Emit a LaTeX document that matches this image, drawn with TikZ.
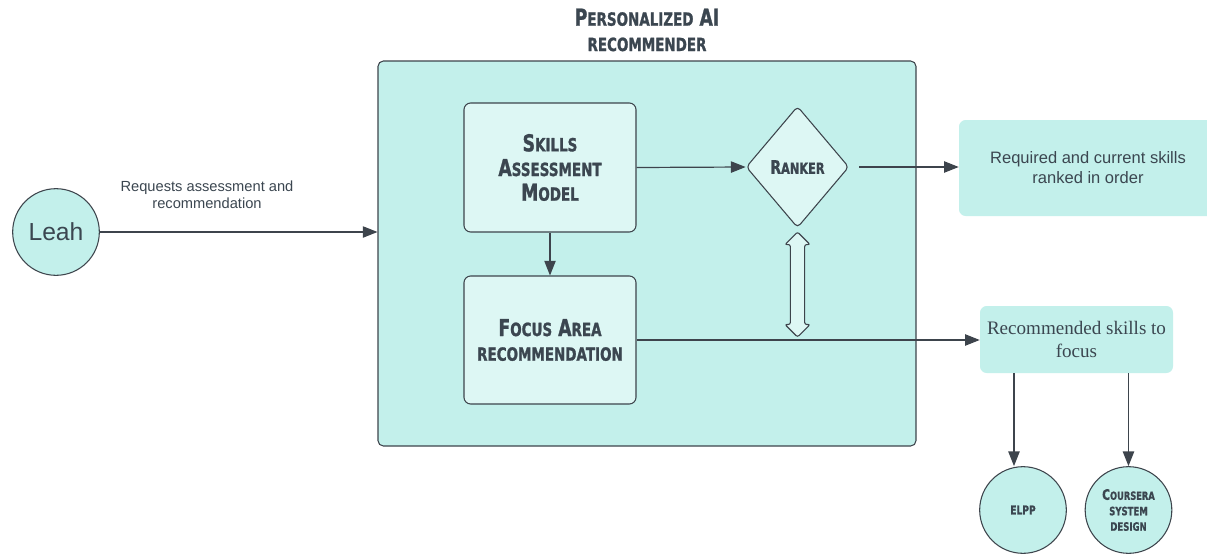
\documentclass[tikz,border=0pt]{standalone}
\usepackage{fontspec}
\setmainfont{Liberation Sans}
\newfontfamily\serifbody{Liberation Serif}
\newfontfamily\headfont{DejaVu Sans}[FakeStretch=0.74, BoldFeatures={FakeBold=1.2}]
\usepackage{tikz}
\usetikzlibrary{shapes.geometric,shapes.arrows,arrows.meta}

\definecolor{tealbg}{HTML}{C3F0EB}
\definecolor{tealin}{HTML}{DDF7F4}
\definecolor{edge}{HTML}{3D444C}
\definecolor{ink}{HTML}{3B4650}

% small caps by hand: big first letter, scaled rest
\newcommand{\sk}[2]{#1\scalebox{0.78}{#2}}

\tikzset{
	box/.style={draw=edge, line width=0.8pt, rounded corners=5pt, fill=tealin, text=ink, align=center, inner sep=0pt},
	note/.style={fill=tealbg, rounded corners=5pt, text=ink, align=center, inner sep=0pt},
	round/.style={circle, draw=edge, line width=0.8pt, fill=tealbg, text=ink, align=center, inner sep=0pt, minimum size=65pt},
	arr/.style={draw=edge, line width=0.9pt, -{Triangle[length=11pt,width=8.5pt]}},
	head/.style={font=\headfont\bfseries\fontsize{17.5}{18.5}\selectfont}
}

\begin{document}
\begin{tikzpicture}[x=0.75pt,y=-0.75pt]
		\useasboundingbox (0,0) rectangle (1207,554);
		\node[text=ink, align=center, font=\headfont\bfseries\fontsize{17.5}{19}\selectfont] (title) at (647,30) {\sk{P}{ERSONALIZED} AI\\\scalebox{0.78}{RECOMMENDER}};
		\node[draw=edge, line width=0.8pt, rounded corners=4pt, fill=tealbg, minimum width=403.5pt, minimum height=288.75pt] (sys) at (647,253.5) {};
		\node[box, head, minimum width=129pt, minimum height=96.75pt] (skills) at (550,167.5) {\sk{S}{KILLS}\\\sk{A}{SSESSMENT}\\\sk{M}{ODEL}};
		\node[box, head, minimum width=129pt, minimum height=96pt] (focus) at (550,340) {\sk{F}{OCUS} \sk{A}{REA}\\\scalebox{0.78}{RECOMMENDATION}};
		\node[diamond, box, rounded corners=3pt, minimum width=77pt, minimum height=91pt, font=\headfont\bfseries\fontsize{14}{15}\selectfont] (ranker) at (797.5,167) {R\scalebox{0.82}{ANKER}};
		\node[double arrow, draw=edge, line width=0.8pt, fill=tealin, rotate=90, minimum height=78.75pt, inner sep=5pt, double arrow head extend=4pt, rounded corners=1.5pt] (link) at (797.5,284.5) {};
		\node[note, minimum width=193.5pt, minimum height=72pt, font=\fontsize{12.4}{15}\selectfont] (ranked) at (1088,168) {Required and current skills\\ranked in order};
		\node[note, minimum width=144.75pt, minimum height=50.25pt, font=\serifbody\fontsize{14.3}{17}\selectfont] (rec) at (1076.5,339.5) {Recommended skills to\\focus};
		\node[round, font=\fontsize{18.5}{20}\selectfont] (leah) at (56,232) {Leah};
		\node[round, font=\headfont\bfseries\fontsize{9.2}{10}\selectfont] (elpp) at (1023,510) {ELPP};
		\node[round, font=\headfont\bfseries\fontsize{10.8}{11.6}\selectfont] (coursera) at (1128.5,510) {\sk{C}{OURSERA}\\\scalebox{0.8}{SYSTEM}\\\scalebox{0.8}{DESIGN}};
		\node[text=ink, align=center, font=\fontsize{11}{13}\selectfont] (asks) at (207,195) {Requests assessment and\\recommendation};
		% connectors
		\draw[arr] (leah.east) -- (leah.east -| sys.west);
		\draw[arr] (skills.east) -- (ranker.west);
		\draw[arr] (skills) -- (focus);
		\draw[arr, shorten <=7.5pt] (ranker.east) -- (ranker.east -| ranked.west);
		\draw[arr] (focus.east) -- (focus.east -| rec.west);
		\coordinate (e1) at ([xshift=-6.75pt]elpp.north);
		\draw[arr] (e1 |- rec.south) -- (e1);
		\draw[arr] (rec.south -| coursera.north) -- (coursera.north);
\end{tikzpicture}
\end{document}
